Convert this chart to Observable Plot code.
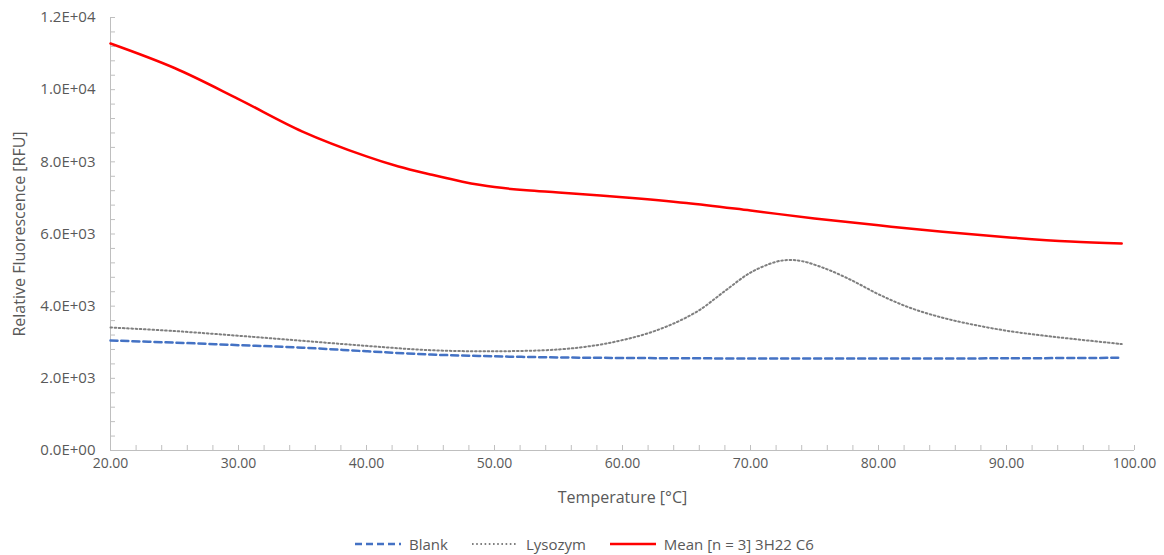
<!DOCTYPE html>
<html><head><meta charset="utf-8">
<script src="https://cdn.jsdelivr.net/npm/d3@7"></script>
<script src="https://cdn.jsdelivr.net/npm/@observablehq/plot@0.6"></script>
<style>
body{margin:0;background:#fff;font-family:"Open Sans",sans-serif;}
#legend{display:flex;padding-left:355px;padding-top:18px;height:22px;align-items:center;font-size:15px;color:#595959;}
.item{display:flex;align-items:center;margin-right:24px;}
.item svg{margin-right:8px;}
</style></head><body><div id="chart"></div><div id="legend"></div>
<script>
// Data
const blankT = [20, 25, 30, 35, 40, 45, 50, 55, 60, 70, 80, 90, 99];
const blankV = [3050, 2990, 2920, 2850, 2750, 2660, 2610, 2580, 2565, 2550, 2550, 2555, 2570];

const lysoT = [20, 25, 30, 35, 40, 45, 50, 55, 58, 60, 62, 64, 66, 68, 70, 72, 73, 74, 76, 78, 80, 82.5, 85, 87.5, 90, 92.5, 95, 99];
const lysoV = [3410, 3310, 3180, 3040, 2900, 2780, 2750, 2800, 2920, 3060, 3250, 3520, 3890, 4420, 4930, 5230, 5280, 5250, 5020, 4700, 4330, 3950, 3680, 3480, 3320, 3200, 3100, 2950];

const meanT = [20, 25, 30, 35, 40, 42.5, 45, 47.5, 50, 52.5, 55, 60, 65, 70, 75, 80, 85, 90, 95, 99];
const meanV = [11280, 10600, 9740, 8840, 8150, 7870, 7650, 7450, 7300, 7210, 7150, 7020, 6860, 6650, 6430, 6240, 6060, 5910, 5790, 5735];

const xTicks = [20, 30, 40, 50, 60, 70, 80, 90, 100];
const yTicks = [0, 2000, 4000, 6000, 8000, 10000, 12000];
const xMinor = d3.range(20, 100.1, 2);
const yMinor = d3.range(0, 12000.1, 400);

const series = [
  {name: "Blank", T: blankT, V: blankV, stroke: "#4472C4", dash: "7,4", width: 2.5},
  {name: "Lysozym", T: lysoT, V: lysoV, stroke: "#7f7f7f", dash: "1.6,2.6", width: 2},
  {name: "Mean [n = 3] 3H22 C6", T: meanT, V: meanV, stroke: "#ff0000", dash: null, width: 2.5}
];

const expFmt = d => {
  const [m, e] = d.toExponential(1).split("e");
  const sign = e[0] === "-" ? "-" : "+";
  const ex = String(Math.abs(+e)).padStart(2, "0");
  return `${m}E${sign}${ex}`;
};

const W = 1164, H = 515, mL = 110, mR = 30, mT = 17, mB = 65;
const axisColor = "#bfbfbf";
const labelColor = "#595959";
const marks = [
  Plot.tickX(xMinor, {x: d => d, stroke: axisColor, insetTop: (H - mT - mB) - 5}),
  Plot.tickY(yMinor, {y: d => d, stroke: axisColor, insetRight: (W - mL - mR) - 5}),
  Plot.ruleY([0], {stroke: axisColor}),
  Plot.ruleX([20], {stroke: axisColor}),
  Plot.text(xTicks, {x: d => d, text: d => d.toFixed(2), frameAnchor: "bottom", dy: 13, lineAnchor: "middle", textAnchor: "middle", fontSize: 14, fill: labelColor}),
  Plot.text(yTicks, {y: d => d, text: expFmt, frameAnchor: "left", dx: -15, lineAnchor: "middle", textAnchor: "end", fontSize: 15, fill: labelColor}),
  Plot.text(["Temperature [°C]"], {frameAnchor: "bottom", dy: 47, fontSize: 16, fill: labelColor, textAnchor: "middle", lineAnchor: "middle"}),
  Plot.text(["Relative Fluorescence [RFU]"], {frameAnchor: "left", dx: -91, rotate: -90, fontSize: 16, fill: labelColor, textAnchor: "middle", lineAnchor: "middle"})
];
for (const s of series) {
  const data = s.T.map((t, i) => ({t, v: s.V[i]}));
  marks.push(Plot.line(data, {x: "t", y: "v", stroke: s.stroke, strokeWidth: s.width, strokeDasharray: s.dash, curve: "catmull-rom"}));
}

const chart = Plot.plot({
  width: W,
  height: H,
  marginLeft: mL,
  marginRight: mR,
  marginTop: mT,
  marginBottom: mB,
  x: {domain: [20, 100], axis: null},
  y: {domain: [0, 12000], axis: null},
  style: {fontFamily: "'Open Sans', sans-serif", color: labelColor, background: "#fff"},
  marks
});
document.getElementById("chart").appendChild(chart);

const legend = document.getElementById("legend");
for (const s of series) {
  const item = document.createElement("div");
  item.className = "item";
  item.innerHTML = `<svg width="46" height="10"><line x1="0" y1="5" x2="46" y2="5" stroke="${s.stroke}" stroke-width="${s.width}" ${s.dash ? `stroke-dasharray="${s.dash}"` : ""}/></svg><span>${s.name}</span>`;
  legend.appendChild(item);
}
</script>
</body></html>
